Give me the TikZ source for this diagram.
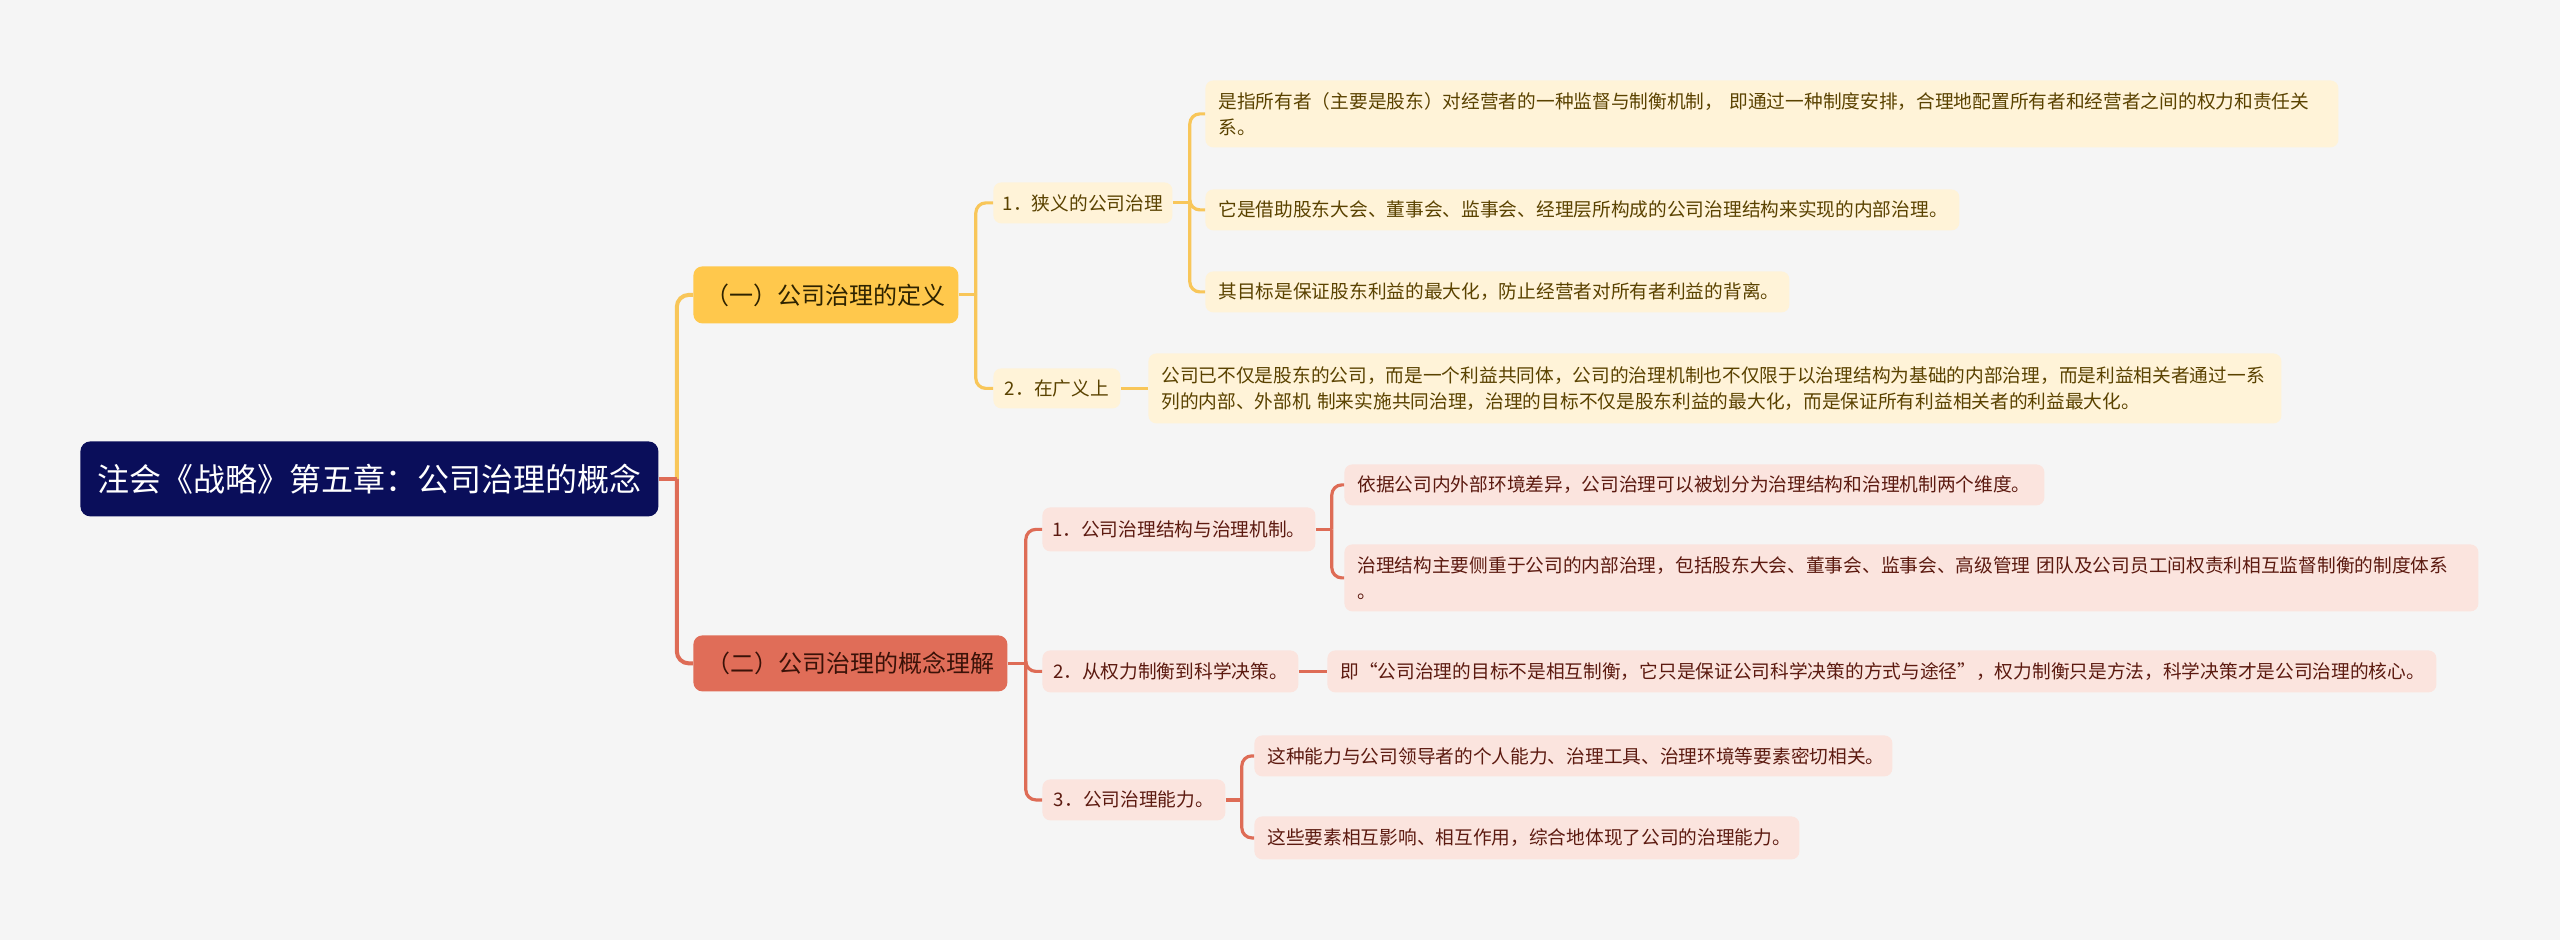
\documentclass[tikz,border=0pt]{standalone}
\usepackage{fontspec}
\setmainfont{Noto Sans CJK SC}
\newfontfamily\fwfont[RawFeature=+fwid]{Noto Sans CJK SC}
\definecolor{bgc}{HTML}{F5F5F5}
\definecolor{rootc}{HTML}{0A0E5A}
\definecolor{ybr}{HTML}{FFC84C}
\definecolor{yline}{HTML}{F8C659}
\definecolor{yleafc}{HTML}{FFF3D8}
\definecolor{ytext}{HTML}{5A4200}
\definecolor{ybrtext}{HTML}{2E2300}
\definecolor{rbr}{HTML}{E06D58}
\definecolor{rline}{HTML}{DE6C56}
\definecolor{rleafc}{HTML}{FBE4DE}
\definecolor{rtext}{HTML}{5C1A10}
\definecolor{rbrtext}{HTML}{3A1208}
\tikzset{
  rootbox/.style={fill=rootc, text=white, rounded corners=5pt, inner sep=0pt, anchor=north west,
    font=\fontsize{16pt}{19pt}\selectfont},
  brbox/.style={rounded corners=4.5pt, inner sep=0pt, anchor=north west,
    font=\fontsize{12pt}{14pt}\selectfont},
  ybranch/.style={brbox, fill=ybr, text=ybrtext},
  rbranch/.style={brbox, fill=rbr, text=rbrtext},
  midbox/.style={rounded corners=4pt, inner sep=0pt, anchor=north west,
    font=\fontsize{9.35pt}{13pt}\selectfont},
  ymid/.style={midbox, fill=yleafc, text=ytext},
  rmid/.style={midbox, fill=rleafc, text=rtext},
  leafbox/.style={rounded corners=4pt, inner xsep=6.5pt, inner ysep=0pt, anchor=north west, align=left,
    font=\fontsize{9.35pt}{13pt}\selectfont},
  yleaf/.style={leafbox, fill=yleafc, text=ytext},
  rleaf/.style={leafbox, fill=rleafc, text=rtext},
  ycon/.style={draw=yline, line width=1.6pt, rounded corners=5pt},
  rcon/.style={draw=rline, line width=1.6pt, rounded corners=5pt},
  ycon0/.style={draw=yline, line width=2pt, rounded corners=6pt},
  rcon0/.style={draw=rline, line width=2pt, rounded corners=6pt},
}
\begin{document}
\begin{tikzpicture}[x=1pt,y=-1pt]
\fill[bgc] (0,0) rectangle (1280,470);
\useasboundingbox (0,0) rectangle (1280,470);

% root and branches
\node[rootbox, minimum width=289pt, minimum height=37.5pt] (root) at (40,220.5) {注会《战略》第五章：公司治理的概念};
\node[ybranch, minimum width=132.5pt, minimum height=28.5pt] (b1) at (346.5,133) {（一）公司治理的定义};
\node[rbranch, minimum width=157pt, minimum height=28pt] (b2) at (346.5,317.5) {（二）公司治理的概念理解};

% level 2
\node[ymid, minimum width=89.5pt, minimum height=20.5pt] (n11) at (496.5,91) {1．狭义的公司治理};
\node[ymid, minimum width=63.5pt, minimum height=20pt] (n12) at (496.5,184) {2．在广义上};
\node[rmid, minimum width=136.5pt, minimum height=22pt] (n21) at (521,253.5) {1．公司治理结构与治理机制。};
\node[rmid, minimum width=128pt, minimum height=21pt] (n22) at (521,325) {2．从权力制衡到科学决策。};
\node[rmid, minimum width=91.5pt, minimum height=20.5pt] (n23) at (521,389.5) {3．公司治理能力。};

% leaves
\node[yleaf, text width=553.5pt, minimum height=33.5pt] (l111) at (602.5,40) {是指所有者（主要是股东）对经营者的一种监督与制衡机制， 即通过一种制度安排，合理地配置所有者和经营者之间的权力和责任关\\系。};
\node[yleaf, text width=364pt, minimum height=20.5pt] (l112) at (602.5,94.5) {它是借助股东大会、董事会、监事会、经理层所构成的公司治理结构来实现的内部治理。};
\node[yleaf, text width=279pt, minimum height=20.5pt] (l113) at (602.5,135.5) {其目标是保证股东利益的最大化，防止经营者对所有者利益的背离。};
\node[yleaf, text width=553.5pt, minimum height=35pt] (l121) at (574,176.5) {公司已不仅是股东的公司，而是一个利益共同体，公司的治理机制也不仅限于以治理结构为基础的内部治理，而是利益相关者通过一系\\列的内部、外部机 制来实施共同治理，治理的目标不仅是股东利益的最大化，而是保证所有利益相关者的利益最大化。};
\node[rleaf, text width=337pt, minimum height=20.5pt] (l211) at (672,232) {依据公司内外部环境差异，公司治理可以被划分为治理结构和治理机制两个维度。};
\node[rleaf, text width=554pt, minimum height=33.5pt] (l212) at (672,272) {治理结构主要侧重于公司的内部治理，包括股东大会、董事会、监事会、高级管理 团队及公司员工间权责利相互监督制衡的制度体系\\。};
\node[rleaf, text width=541.5pt, minimum height=21pt] (l221) at (663.5,325) {即{\fwfont “}公司治理的目标不是相互制衡，它只是保证公司科学决策的方式与途径{\fwfont ”}，权力制衡只是方法，科学决策才是公司治理的核心。};
\node[rleaf, text width=306pt, minimum height=20.5pt] (l231) at (627,367.5) {这种能力与公司领导者的个人能力、治理工具、治理环境等要素密切相关。};
\node[rleaf, text width=259.5pt, minimum height=21.5pt] (l232) at (627,408) {这些要素相互影响、相互作用，综合地体现了公司的治理能力。};

% junctions
\path (root.east) ++(9,0) coordinate (j0);
\path (b1.east) ++(8.5,0) coordinate (j1);
\path (b2.east) ++(9,0) coordinate (j2);
\path (n11.east) ++(8.5,0) coordinate (j11);
\path (n21.east) ++(8,0) coordinate (j21);
\path (n23.east) ++(8,0) coordinate (j23);

% connectors
\draw[ycon0] (j0) |- (b1.west);
\draw[rcon0] (j0) |- (b2.west);
\draw[rcon0, rounded corners=0pt] (root.east) -- (j0);

\draw[ycon] (b1.east) -- (j1);
\draw[ycon] (j1) |- (n11.west);
\draw[ycon] (j1) |- (n12.west);

\draw[ycon] (n11.east) -- (j11);
\draw[ycon] (j11) |- (l111.west);
\draw[ycon] (j11) |- (l112.west);
\draw[ycon] (j11) |- (l113.west);
\draw[ycon] (n12.east) -- (l121.west);

\draw[rcon] (b2.east) -- (j2);
\draw[rcon] (j2) |- (n21.west);
\draw[rcon] (j2) |- (n22.west);
\draw[rcon] (j2) |- (n23.west);

\draw[rcon] (n21.east) -- (j21);
\draw[rcon] (j21) |- (l211.west);
\draw[rcon] (j21) |- (l212.west);
\draw[rcon] (n22.east) -- (l221.west);
\draw[rcon] (n23.east) -- (j23);
\draw[rcon] (j23) |- (l231.west);
\draw[rcon] (j23) |- (l232.west);
\end{tikzpicture}
\end{document}
